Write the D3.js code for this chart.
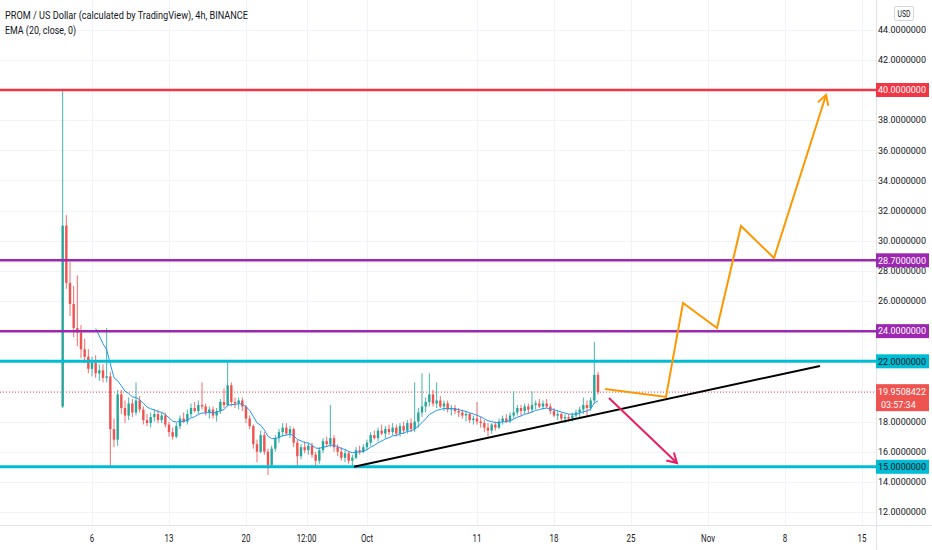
<!DOCTYPE html>
<html>
<head>
<meta charset="utf-8">
<script src="https://cdn.jsdelivr.net/npm/d3@7"></script>
<style>
  body { margin: 0; background: #fff; }
  svg { display: block; font-family: Roboto, "Noto Sans", sans-serif; }
</style>
</head>
<body>
<svg id="chart" width="932" height="550"></svg>
<script>

// 8h bars (PROM/USD, Binance)
var firstBar = "2021-09-03T08:00Z";
var barHours = 8;

var opens = [19.0,31.0,27.2,25.8,24.2,23.9,22.8,22.3,21.5,21.9,21.2,21.4,20.9,21.0,17.5,16.8,19.8,18.9,18.4,19.2,
  18.6,19.4,18.8,18.1,17.9,18.3,18.5,18.1,18.4,17.8,17.3,17.0,17.7,18.2,18.0,18.5,18.9,18.7,19.1,19.0,
  18.6,18.8,18.4,18.7,19.3,19.1,20.4,19.3,19.2,19.4,19.0,18.2,17.7,16.5,16.0,17.1,16.0,15.1,16.2,16.9,
  17.3,17.6,17.2,17.5,16.6,15.7,16.3,16.1,16.4,15.8,15.4,16.1,16.7,16.5,16.9,16.3,16.0,15.6,15.9,15.4,
  15.6,16.1,16.0,16.3,16.6,17.1,16.9,17.4,17.2,17.5,17.3,17.6,17.2,17.7,17.4,17.9,17.5,18.0,18.6,19.0,
  19.3,19.8,19.2,19.4,19.0,19.2,18.8,18.9,18.7,18.6,18.4,18.5,18.1,18.2,18.0,17.9,17.6,17.4,17.8,17.6,
  18.0,18.2,18.0,18.4,18.6,18.9,18.7,19.0,18.8,19.1,19.2,19.0,19.2,19.0,18.7,18.4,18.5,18.2,18.3,18.2,
  18.4,18.6,18.8,19.1,18.9,19.4,21.1];
var highs = [40.0,31.7,28.6,27.0,27.7,24.4,23.5,22.8,22.3,22.4,21.8,21.8,24.2,21.3,18.2,20.1,20.1,19.4,19.6,19.5,
  20.6,19.7,19.0,18.5,18.6,18.8,18.8,18.6,18.6,18.0,17.6,17.9,18.4,18.6,18.8,19.2,19.3,19.4,20.6,19.2,
  19.0,19.0,18.9,19.5,20.2,22.0,20.6,19.6,19.6,19.6,19.1,18.4,17.8,16.8,17.4,17.3,16.2,16.4,17.1,17.5,
  17.9,17.9,17.7,17.6,16.8,16.5,16.7,16.6,16.6,16.0,16.3,16.9,17.0,19.1,17.1,16.5,16.3,16.1,16.0,15.8,
  16.3,16.4,16.5,16.8,17.3,17.4,17.6,17.8,17.7,17.8,17.9,17.8,17.9,18.0,18.1,18.2,20.6,18.9,21.2,19.6,
  21.2,20.1,20.6,19.7,19.4,19.4,19.1,19.1,18.9,18.8,18.7,18.6,18.4,19.3,18.3,18.1,17.9,17.9,18.0,18.2,
  18.4,18.5,18.6,20.0,19.1,19.1,19.2,19.2,20.0,19.4,19.5,19.4,19.5,19.2,18.9,18.7,18.6,18.5,18.5,18.6,
  18.8,19.0,19.6,19.4,19.6,23.3,21.3];
var lows = [18.9,26.8,25.0,23.6,23.0,22.2,21.9,21.2,21.0,20.9,20.7,20.6,20.6,15.0,16.3,16.4,18.5,17.9,18.1,18.3,
  18.4,18.6,17.8,17.7,17.6,18.0,17.9,17.9,17.6,17.0,16.8,16.9,17.5,17.9,17.8,18.3,18.6,18.5,18.8,18.4,
  18.2,18.2,18.0,18.5,18.9,19.0,19.0,18.9,18.8,18.7,17.9,17.5,16.2,15.3,15.9,15.8,14.45,15.0,16.0,16.6,
  17.0,17.1,16.9,16.3,15.0,15.5,15.9,15.8,15.6,15.0,15.2,15.9,16.3,16.3,16.0,15.7,15.4,15.3,15.2,15.0,
  15.5,15.8,15.9,16.1,16.4,16.8,16.7,17.1,16.9,17.1,17.1,17.0,17.0,17.2,17.2,17.3,17.3,17.6,18.3,18.6,
  19.0,19.0,18.9,18.9,18.7,18.6,18.4,18.5,18.3,18.2,18.0,17.9,17.8,17.8,17.6,17.3,17.0,17.2,17.4,17.5,
  17.8,17.9,17.9,18.2,18.4,18.4,18.5,18.5,18.6,18.8,18.9,18.8,18.9,18.5,18.3,18.1,18.0,17.9,18.0,18.0,
  18.2,18.3,18.5,18.4,18.7,19.2,19.8];
var closes = [31.0,27.2,25.8,24.2,23.9,22.8,22.3,21.5,21.9,21.2,21.4,20.9,21.0,17.5,16.8,19.8,18.9,18.4,19.2,18.6,
  19.4,18.8,18.1,17.9,18.3,18.5,18.1,18.4,17.8,17.3,17.0,17.7,18.2,18.0,18.5,18.9,18.7,19.1,19.0,18.6,
  18.8,18.4,18.7,19.3,19.1,20.4,19.3,19.2,19.4,19.0,18.2,17.7,16.5,16.0,17.1,16.0,15.1,16.2,16.9,17.3,
  17.6,17.2,17.5,16.6,15.7,16.3,16.1,16.4,15.8,15.4,16.1,16.7,16.5,16.9,16.3,16.0,15.6,15.9,15.4,15.6,
  16.1,16.0,16.3,16.6,17.1,16.9,17.4,17.2,17.5,17.3,17.6,17.2,17.7,17.4,17.9,17.5,18.0,18.6,19.0,19.3,
  19.8,19.2,19.4,19.0,19.2,18.8,18.9,18.7,18.6,18.4,18.5,18.1,18.2,18.0,17.9,17.6,17.4,17.8,17.6,18.0,
  18.2,18.0,18.4,18.6,18.9,18.7,19.0,18.8,19.1,19.2,19.0,19.2,19.0,18.7,18.4,18.5,18.2,18.3,18.2,18.4,
  18.6,18.8,19.1,18.9,19.4,21.1,19.9508422];

// 20 bars of 4h is roughly 10 bars of 8h
var emaBars = 10;

var lastPrice = 19.9508422;
var countdown = "03:57:34";

var dateTicks = ["2021-09-06T00:00Z","2021-09-13T00:00Z","2021-09-20T00:00Z","2021-09-25T12:00Z","2021-10-01T00:00Z",
  "2021-10-11T00:00Z","2021-10-18T00:00Z","2021-10-25T00:00Z","2021-11-01T00:00Z","2021-11-08T00:00Z","2021-11-15T00:00Z"];
var dateLabels = ["6","13","20","12:00","Oct","11","18","25","Nov","8","15"];
var priceTicks = [12,14,16,18,20,22,24,26,28,30,32,34,36,38,40,42,44];

// horizontal levels drawn on the chart
var levelPrices = [40, 28.7, 24, 22, 15];
var levelColors = ["#f23645", "#9c27b0", "#9c27b0", "#00bcd4", "#00bcd4"];

// trend line and the two projections
var trendLine = [["2021-09-29T19:40Z", 15.0], ["2021-11-11T04:20Z", 21.69]];
var upPath = [["2021-10-22T15:20Z", 20.16], ["2021-10-28T04:20Z", 19.63], ["2021-10-29T17:30Z", 25.87],
  ["2021-11-01T19:40Z", 24.21], ["2021-11-04T00:00Z", 30.98], ["2021-11-07T00:00Z", 28.85],
  ["2021-11-11T17:30Z", 39.67]];
var downPath = [["2021-10-23T00:00Z", 19.56], ["2021-10-29T04:20Z", 15.25]];


var svg = d3.select('#chart');
var plotW = 876, plotH = 525;
var axisFont = 9;

var x = d3.scaleUtc()
  .domain([d3.isoParse(dateTicks[0]), d3.isoParse(dateTicks[10])])
  .range([92, 862]);
var y = d3.scaleLinear().domain([12, 40]).range([512, 90]);

// squeeze text horizontally, the screenshot is narrow
function squeeze(sel, k) {
  sel.each(function() {
    var w = this.getComputedTextLength();
    d3.select(this).attr('textLength', w * k).attr('lengthAdjust', 'spacingAndGlyphs');
  });
}

var bars = closes.map(function(c, i) {
  return { t: new Date(d3.isoParse(firstBar).getTime() + i * barHours * 3600e3),
           o: opens[i], h: highs[i], l: lows[i], c: c };
});

// EMA, seeded with SMA
var ema = [];
var k = 2 / (emaBars + 1);
bars.forEach(function(b, i) {
  if (i < emaBars - 1) return;
  if (i == emaBars - 1) {
    ema.push({ t: b.t, v: d3.mean(closes.slice(0, emaBars)) });
  } else {
    ema.push({ t: b.t, v: b.c * k + ema[ema.length - 1].v * (1 - k) });
  }
});

svg.append('defs').append('clipPath').attr('id', 'plot')
  .append('rect').attr('width', plotW).attr('height', plotH);

// grid
var grid = svg.append('g').attr('stroke', '#f0f3fa').attr('stroke-width', 1);
grid.selectAll('.hg').data(priceTicks).enter().append('line')
  .attr('x1', 0).attr('x2', plotW)
  .attr('y1', d => Math.round(y(d)) + 0.5).attr('y2', d => Math.round(y(d)) + 0.5);
grid.selectAll('.vg').data(dateTicks).enter().append('line')
  .attr('y1', 0).attr('y2', plotH)
  .attr('x1', d => Math.round(x(d3.isoParse(d))) + 0.5).attr('x2', d => Math.round(x(d3.isoParse(d))) + 0.5);

var plot = svg.append('g').attr('clip-path', 'url(#plot)');

// last price line
plot.append('line')
  .attr('x1', 0).attr('x2', plotW)
  .attr('y1', y(lastPrice)).attr('y2', y(lastPrice))
  .attr('stroke', '#ef5350').attr('stroke-width', 1).attr('stroke-dasharray', '1,2');

// candles
var up = '#26a69a', down = '#ef5350';
var bw = 2.4;
var cg = plot.append('g');
cg.selectAll('.wick').data(bars).enter().append('line')
  .attr('x1', d => x(d.t)).attr('x2', d => x(d.t))
  .attr('y1', d => y(d.h)).attr('y2', d => y(d.l))
  .attr('stroke', d => d.c >= d.o ? up : down).attr('stroke-width', 1)
  .attr('stroke-opacity', 0.85);
cg.selectAll('.body').data(bars).enter().append('rect')
  .attr('x', d => x(d.t) - bw / 2).attr('width', bw)
  .attr('y', d => y(Math.max(d.o, d.c)))
  .attr('height', d => Math.max(1, Math.abs(y(d.o) - y(d.c))))
  .attr('fill', d => d.c >= d.o ? up : down);

// EMA
plot.append('path').datum(ema)
  .attr('fill', 'none').attr('stroke', '#2196f3').attr('stroke-width', 1)
  .attr('d', d3.line().x(d => x(d.t)).y(d => y(d.v)));

// horizontal levels
plot.selectAll('.lvl').data(levelPrices).enter().append('line')
  .attr('x1', 0).attr('x2', plotW)
  .attr('y1', d => y(d)).attr('y2', d => y(d))
  .attr('stroke', (d, i) => levelColors[i])
  .attr('stroke-width', (d, i) => levelColors[i] == '#00bcd4' ? 3 : 2.5);

var pathLine = d3.line().x(d => x(d3.isoParse(d[0]))).y(d => y(d[1]));

plot.append('path').datum(trendLine)
  .attr('d', pathLine).attr('fill', 'none')
  .attr('stroke', '#000').attr('stroke-width', 2);

function arrow(points, color) {
  plot.append('path').datum(points)
    .attr('d', pathLine).attr('fill', 'none')
    .attr('stroke', color).attr('stroke-width', 2).attr('stroke-linejoin', 'miter');
  var a = points[points.length - 2], b = points[points.length - 1];
  var x1 = x(d3.isoParse(a[0])), y1 = y(a[1]), x2 = x(d3.isoParse(b[0])), y2 = y(b[1]);
  var ang = Math.atan2(y2 - y1, x2 - x1);
  var len = 11, spread = Math.PI / 6;
  var head = [[x2 + len * Math.cos(ang + Math.PI - spread), y2 + len * Math.sin(ang + Math.PI - spread)],
              [x2, y2],
              [x2 + len * Math.cos(ang + Math.PI + spread), y2 + len * Math.sin(ang + Math.PI + spread)]];
  plot.append('path').attr('d', d3.line()(head)).attr('fill', 'none')
    .attr('stroke', color).attr('stroke-width', 2);
}
arrow(upPath, '#ff9800');
arrow(downPath, '#e91e63');

// axes frame
svg.append('line').attr('x1', plotW + 0.5).attr('x2', plotW + 0.5).attr('y1', 0).attr('y2', 550)
  .attr('stroke', '#e0e3eb');
svg.append('line').attr('x1', 0).attr('x2', 932).attr('y1', plotH + 0.5).attr('y2', plotH + 0.5)
  .attr('stroke', '#e0e3eb');

// price axis labels
svg.append('g').selectAll('text').data(priceTicks).enter().append('text')
  .attr('x', 902).attr('y', d => y(d) + 3.3)
  .attr('text-anchor', 'middle')
  .attr('font-size', axisFont).attr('fill', '#131722')
  .text(d => d.toFixed(7));

// level labels
var lab = svg.append('g').selectAll('g').data(levelPrices).enter().append('g');
lab.append('rect')
  .attr('x', plotW).attr('width', 53)
  .attr('y', d => y(d) - 7).attr('height', 14)
  .attr('fill', (d, i) => levelColors[i]);
lab.append('text')
  .attr('x', 902).attr('y', d => y(d) + 3.3)
  .attr('text-anchor', 'middle')
  .attr('font-size', axisFont)
  .attr('fill', (d, i) => levelColors[i] == '#00bcd4' ? '#131722' : '#fff')
  .text(d => d.toFixed(7));

// last price label
var pl = svg.append('g');
pl.append('rect').attr('x', plotW).attr('width', 53)
  .attr('y', y(lastPrice) - 8).attr('height', 27).attr('fill', '#ef5350');
pl.append('text').attr('x', 902).attr('y', y(lastPrice) + 3.3)
  .attr('text-anchor', 'middle')
  .attr('font-size', axisFont).attr('fill', '#fff')
  .text(lastPrice.toFixed(7));
pl.append('text').attr('x', 881).attr('y', y(lastPrice) + 15.5)
  .attr('font-size', axisFont).attr('fill', '#fff')
  .text(countdown);

// currency box
svg.append('rect').attr('x', 894.5).attr('y', 6.5).attr('width', 19).attr('height', 14).attr('rx', 2)
  .attr('fill', '#fff').attr('stroke', '#d1d4dc');
svg.append('text').attr('x', 904).attr('y', 17).attr('text-anchor', 'middle')
  .attr('font-size', 9).attr('fill', '#131722').text('USD')
  .call(squeeze, 0.75);

// time axis labels
svg.append('g').selectAll('text').data(dateTicks).enter().append('text')
  .attr('x', d => x(d3.isoParse(d))).attr('y', 542)
  .attr('text-anchor', 'middle').attr('font-size', 11).attr('fill', '#131722')
  .text((d, i) => dateLabels[i])
  .call(squeeze, 0.72);

// legend
svg.append('text').attr('x', 5).attr('y', 19).attr('font-size', 11.5).attr('fill', '#131722')
  .attr('textLength', 243).attr('lengthAdjust', 'spacingAndGlyphs')
  .text('PROM / US Dollar (calculated by TradingView), 4h, BINANCE');
svg.append('text').attr('x', 5).attr('y', 34).attr('font-size', 11.5).attr('fill', '#131722')
  .attr('textLength', 71).attr('lengthAdjust', 'spacingAndGlyphs')
  .text('EMA (20, close, 0)');

</script>
</body>
</html>
